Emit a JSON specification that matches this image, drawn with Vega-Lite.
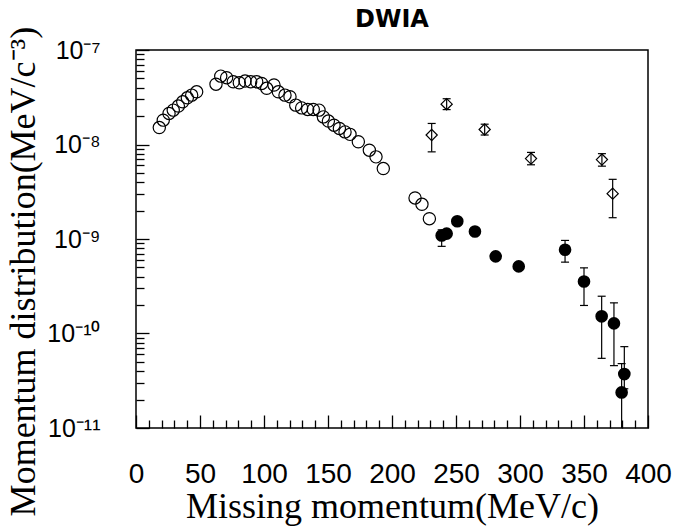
{
  "$schema": "https://vega.github.io/schema/vega-lite/v6.json",
  "width": 512,
  "height": 378,
  "autosize": {"type": "none"},
  "padding": {"left": 136, "top": 50, "right": 28, "bottom": 101},
  "background": "white",
  "title": {"text": "DWIA", "anchor": "middle", "frame": "group", "font": "DejaVu Sans", "fontSize": 24, "fontWeight": "bold", "baseline": "alphabetic", "offset": 1, "dy": 26, "color": "black"},
  "config": {
    "view": {"stroke": "black", "strokeWidth": 1.5},
    "axis": {"domain": false, "grid": false, "tickColor": "black", "tickWidth": 1.3, "labelColor": "black", "titleColor": "black"}
  },
  "data": {"values": [
    {"s": "open", "p": 18.2, "v": 1.51e-8},
    {"s": "open", "p": 21.3, "v": 1.81e-8},
    {"s": "open", "p": 25.8, "v": 2.13e-8},
    {"s": "open", "p": 29.1, "v": 2.31e-8},
    {"s": "open", "p": 33.1, "v": 2.55e-8},
    {"s": "open", "p": 36.5, "v": 2.83e-8},
    {"s": "open", "p": 40.1, "v": 3.12e-8},
    {"s": "open", "p": 43.5, "v": 3.33e-8},
    {"s": "open", "p": 47.4, "v": 3.61e-8},
    {"s": "open", "p": 62.5, "v": 4.35e-8},
    {"s": "open", "p": 66.2, "v": 5.29e-8},
    {"s": "open", "p": 70.8, "v": 5.09e-8},
    {"s": "open", "p": 76.0, "v": 4.61e-8},
    {"s": "open", "p": 80.7, "v": 4.5e-8},
    {"s": "open", "p": 85.2, "v": 4.69e-8},
    {"s": "open", "p": 89.6, "v": 4.61e-8},
    {"s": "open", "p": 94.3, "v": 4.61e-8},
    {"s": "open", "p": 98.2, "v": 4.43e-8},
    {"s": "open", "p": 102.1, "v": 3.93e-8},
    {"s": "open", "p": 107.8, "v": 4.26e-8},
    {"s": "open", "p": 111.2, "v": 3.61e-8},
    {"s": "open", "p": 116.4, "v": 3.33e-8},
    {"s": "open", "p": 120.3, "v": 3.2e-8},
    {"s": "open", "p": 124.8, "v": 2.61e-8},
    {"s": "open", "p": 129.4, "v": 2.44e-8},
    {"s": "open", "p": 134.1, "v": 2.35e-8},
    {"s": "open", "p": 138.5, "v": 2.35e-8},
    {"s": "open", "p": 143.0, "v": 2.31e-8},
    {"s": "open", "p": 146.4, "v": 1.96e-8},
    {"s": "open", "p": 150.3, "v": 1.77e-8},
    {"s": "open", "p": 154.7, "v": 1.6e-8},
    {"s": "open", "p": 158.9, "v": 1.48e-8},
    {"s": "open", "p": 163.3, "v": 1.36e-8},
    {"s": "open", "p": 167.2, "v": 1.28e-8},
    {"s": "open", "p": 173.7, "v": 1.07e-8},
    {"s": "open", "p": 182.3, "v": 8.7e-9},
    {"s": "open", "p": 187.5, "v": 7.4e-9},
    {"s": "open", "p": 193.2, "v": 5.56e-9},
    {"s": "open", "p": 218.0, "v": 2.72e-9},
    {"s": "open", "p": 223.4, "v": 2.33e-9},
    {"s": "open", "p": 229.2, "v": 1.64e-9},
    {"s": "filled", "p": 238.8, "v": 1.09e-9, "lo": 8.36e-10, "hi": 1.25e-9},
    {"s": "filled", "p": 242.7, "v": 1.14e-9},
    {"s": "filled", "p": 251.0, "v": 1.54e-9},
    {"s": "filled", "p": 264.8, "v": 1.2e-9},
    {"s": "filled", "p": 281.0, "v": 6.55e-10},
    {"s": "filled", "p": 299.0, "v": 5.13e-10},
    {"s": "filled", "p": 335.2, "v": 7.69e-10, "lo": 5.69e-10, "hi": 9.66e-10},
    {"s": "filled", "p": 350.0, "v": 3.55e-10, "lo": 1.98e-10, "hi": 4.95e-10},
    {"s": "filled", "p": 363.8, "v": 1.52e-10, "lo": 5.46e-11, "hi": 2.48e-10},
    {"s": "filled", "p": 373.4, "v": 1.28e-10, "lo": 4.57e-11, "hi": 2.11e-10},
    {"s": "filled", "p": 381.5, "v": 3.72e-11, "lo": 2.6e-11, "hi": 7.26e-11},
    {"s": "filled", "p": 379.4, "v": 2.38e-11, "lo": 1e-11, "hi": 4.8e-11},
    {"s": "diamond", "p": 231.0, "v": 1.26e-8, "lo": 8.36e-9, "hi": 1.67e-8},
    {"s": "diamond", "p": 242.7, "v": 2.67e-8, "lo": 2.34e-8, "hi": 3.05e-8},
    {"s": "diamond", "p": 272.4, "v": 1.44e-8, "lo": 1.26e-8, "hi": 1.64e-8},
    {"s": "diamond", "p": 308.6, "v": 7.1e-9, "lo": 6.1e-9, "hi": 8.25e-9},
    {"s": "diamond", "p": 364.0, "v": 6.93e-9, "lo": 5.9e-9, "hi": 8.0e-9},
    {"s": "diamond", "p": 372.4, "v": 3.02e-9, "lo": 1.68e-9, "hi": 4.28e-9}
  ]},
  "layer": [
    {
      "transform": [{"filter": "isValid(datum.lo)"}],
      "mark": {"type": "rule", "color": "black", "strokeWidth": 1.2},
      "encoding": {
        "x": {"field": "p", "type": "quantitative", "scale": {"domain": [0, 400], "nice": false, "zero": false}, "axis": null},
        "y": {"field": "lo", "type": "quantitative", "scale": {"type": "log", "domain": [1e-11, 1e-7], "nice": false}, "axis": null},
        "y2": {"field": "hi"}
      }
    },
    {
      "transform": [{"filter": "isValid(datum.lo) && datum.lo > 1.5e-11"}],
      "mark": {"type": "tick", "orient": "horizontal", "size": 8, "thickness": 1.2, "color": "black", "opacity": 1},
      "encoding": {
        "x": {"field": "p", "type": "quantitative", "scale": {"domain": [0, 400], "nice": false, "zero": false}, "axis": null},
        "y": {"field": "lo", "type": "quantitative", "scale": {"type": "log", "domain": [1e-11, 1e-7], "nice": false}, "axis": null}
      }
    },
    {
      "transform": [{"filter": "isValid(datum.hi)"}],
      "mark": {"type": "tick", "orient": "horizontal", "size": 8, "thickness": 1.2, "color": "black", "opacity": 1},
      "encoding": {
        "x": {"field": "p", "type": "quantitative", "scale": {"domain": [0, 400], "nice": false, "zero": false}, "axis": null},
        "y": {"field": "hi", "type": "quantitative", "scale": {"type": "log", "domain": [1e-11, 1e-7], "nice": false}, "axis": null}
      }
    },
    {
      "transform": [{"filter": "datum.s == 'open'"}],
      "mark": {"type": "point", "shape": "circle", "filled": false, "size": 150, "color": "black", "strokeWidth": 1.2, "opacity": 1},
      "encoding": {
        "x": {"field": "p", "type": "quantitative", "scale": {"domain": [0, 400], "nice": false, "zero": false},
          "axis": {"orient": "bottom", "values": [0, 50, 100, 150, 200, 250, 300, 350, 400], "format": "d", "tickSize": -13, "labelPadding": 45, "labelFont": "Liberation Sans", "labelFontSize": 28, "labelFlush": false, "labelOverlap": false, "labelBound": false,
            "title": "Missing momentum(MeV/c)", "titleFont": "Liberation Serif", "titleFontSize": 36, "titleFontWeight": "normal", "titlePadding": 1}},
        "y": {"field": "v", "type": "quantitative", "scale": {"type": "log", "domain": [1e-11, 1e-7], "nice": false},
          "axis": {"orient": "left", "values": [1e-11, 1e-10, 1e-9, 1e-8, 1e-7], "tickSize": -13, "labelPadding": 49,
            "labelExpr": "datum.value < 5e-11 ? '10⁻¹¹' : datum.value < 5e-10 ? '10⁻¹⁰' : datum.value < 5e-9 ? '10⁻⁹' : datum.value < 5e-8 ? '10⁻⁸' : '10⁻⁷'",
            "labelFont": "Liberation Sans Narrow, Liberation Sans", "labelFontSize": 25, "labelFlush": false, "labelOverlap": false, "labelBound": false,
            "title": "Momentum distribution(MeV/c⁻³)", "titleFont": "Liberation Serif", "titleFontSize": 36, "titleFontWeight": "normal", "titlePadding": 4, "titleY": 221}}
      }
    },
    {
      "transform": [{"filter": "datum.s == 'diamond'"}],
      "mark": {"type": "point", "shape": "diamond", "filled": false, "size": 125, "color": "black", "strokeWidth": 1.2, "opacity": 1},
      "encoding": {
        "x": {"field": "p", "type": "quantitative", "scale": {"domain": [0, 400], "nice": false, "zero": false}, "axis": null},
        "y": {"field": "v", "type": "quantitative", "scale": {"type": "log", "domain": [1e-11, 1e-7], "nice": false}, "axis": null}
      }
    },
    {
      "transform": [{"filter": "datum.s == 'filled'"}],
      "mark": {"type": "point", "shape": "circle", "filled": true, "size": 160, "color": "black", "opacity": 1},
      "encoding": {
        "x": {"field": "p", "type": "quantitative", "scale": {"domain": [0, 400], "nice": false, "zero": false},
          "axis": {"orient": "bottom", "values": [10, 20, 30, 40, 60, 70, 80, 90, 110, 120, 130, 140, 160, 170, 180, 190, 210, 220, 230, 240, 260, 270, 280, 290, 310, 320, 330, 340, 360, 370, 380, 390], "tickSize": -8, "labels": false, "title": null}},
        "y": {"field": "v", "type": "quantitative", "scale": {"type": "log", "domain": [1e-11, 1e-7], "nice": false},
          "axis": {"orient": "left", "values": [2e-11, 3e-11, 4e-11, 5e-11, 6e-11, 7e-11, 8e-11, 9e-11, 2e-10, 3e-10, 4e-10, 5e-10, 6e-10, 7e-10, 8e-10, 9e-10, 2e-9, 3e-9, 4e-9, 5e-9, 6e-9, 7e-9, 8e-9, 9e-9, 2e-8, 3e-8, 4e-8, 5e-8, 6e-8, 7e-8, 8e-8, 9e-8], "tickSize": -8, "labels": false, "title": null}}
      }
    }
  ],
  "resolve": {"axis": {"x": "independent", "y": "independent"}}
}
